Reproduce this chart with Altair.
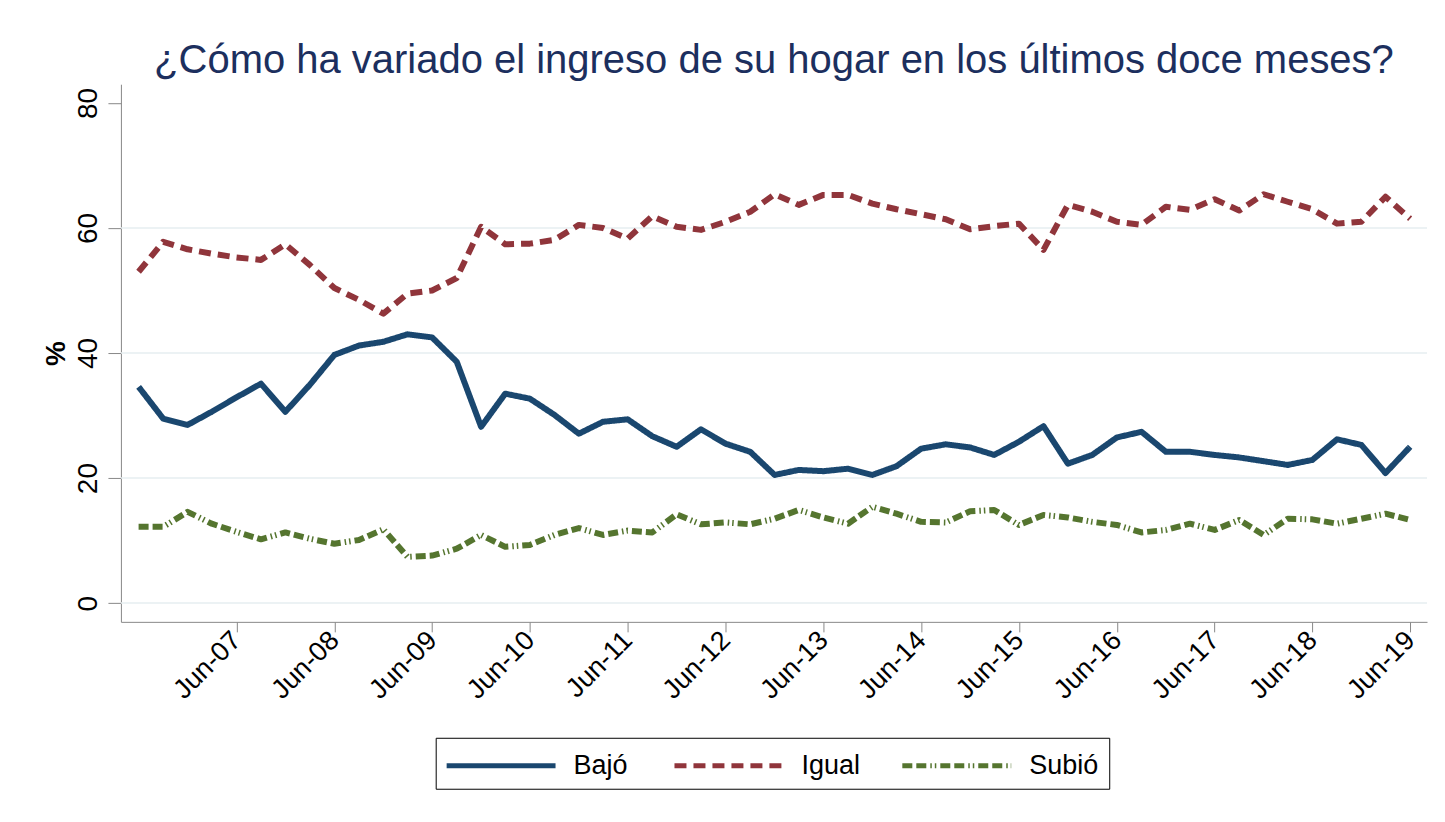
import altair as alt
import pandas as pd

quarters = [
    "2006-06", "2006-09", "2006-12", "2007-03", "2007-06", "2007-09", "2007-12",
    "2008-03", "2008-06", "2008-09", "2008-12", "2009-03", "2009-06", "2009-09",
    "2009-12", "2010-03", "2010-06", "2010-09", "2010-12", "2011-03", "2011-06",
    "2011-09", "2011-12", "2012-03", "2012-06", "2012-09", "2012-12", "2013-03",
    "2013-06", "2013-09", "2013-12", "2014-03", "2014-06", "2014-09", "2014-12",
    "2015-03", "2015-06", "2015-09", "2015-12", "2016-03", "2016-06", "2016-09",
    "2016-12", "2017-03", "2017-06", "2017-09", "2017-12", "2018-03", "2018-06",
    "2018-09", "2018-12", "2019-03", "2019-06",
]

bajo = [
    34.6, 29.5, 28.5, 30.6, 32.9, 35.1, 30.6, 34.9, 39.7, 41.2, 41.8, 43.0, 42.5,
    38.6, 28.2, 33.5, 32.7, 30.1, 27.1, 29.0, 29.4, 26.7, 25.0, 27.8, 25.5, 24.2,
    20.5, 21.3, 21.1, 21.5, 20.5, 21.9, 24.7, 25.4, 24.9, 23.7, 25.8, 28.3, 22.3,
    23.7, 26.5, 27.4, 24.2, 24.2, 23.7, 23.3, 22.7, 22.1, 22.9, 26.2, 25.3, 20.8, 25.0,
]
igual = [
    53.0, 57.8, 56.6, 55.9, 55.3, 54.9, 57.4, 54.1, 50.4, 48.5, 46.3, 49.5, 50.0,
    52.0, 60.2, 57.4, 57.5, 58.1, 60.5, 60.0, 58.3, 61.9, 60.2, 59.7, 61.0, 62.6,
    65.4, 63.7, 65.3, 65.3, 63.9, 63.0, 62.2, 61.4, 59.8, 60.3, 60.7, 56.5, 63.7,
    62.6, 61.0, 60.5, 63.4, 62.9, 64.6, 62.8, 65.4, 64.2, 63.0, 60.7, 61.0, 65.0, 61.5,
]
subio = [
    12.2, 12.2, 14.6, 12.7, 11.4, 10.2, 11.3, 10.3, 9.5, 10.1, 11.8, 7.4, 7.6,
    8.7, 10.9, 9.0, 9.3, 10.9, 12.0, 10.9, 11.6, 11.3, 14.2, 12.6, 12.9, 12.6,
    13.5, 14.9, 13.7, 12.7, 15.4, 14.3, 13.0, 12.9, 14.7, 14.9, 12.5, 14.1, 13.7,
    13.0, 12.5, 11.3, 11.7, 12.7, 11.7, 13.3, 10.9, 13.5, 13.4, 12.7, 13.5, 14.3, 13.3,
]

series_names = ["Bajó", "Igual", "Subió"]
series_colors = ["#1a476f", "#90353b", "#55752f"]
series_dashes = [[1, 0], [12, 7], [10, 4, 10, 4, 1.5, 3, 1.5, 4]]
y_ticks = [0, 20, 40, 60, 80]
grid_values = [0, 20, 40, 60]
x_tick_years = list(range(2007, 2020))
title_text = "¿Cómo ha variado el ingreso de su hogar en los últimos doce meses?"

rows = []
for name, vals in zip(series_names, [bajo, igual, subio]):
    for q, v in zip(quarters, vals):
        rows.append({"fecha": q + "-01", "serie": name, "valor": v})
df = pd.DataFrame(rows)

FONT = "Liberation Sans"
AXIS_COLOR = "#3a3a3a"

x_scale = alt.Scale(
    type="utc",
    domain=[
        alt.DateTime(year=2006, month=3, date=27, utc=True),
        alt.DateTime(year=2019, month=8, date=3, utc=True),
    ],
)
y_scale = alt.Scale(domain=[-3, 83], nice=False, zero=False)

y_axis = alt.Axis(
    values=y_ticks,
    labelAngle=270,
    labelAlign="center",
    labelBaseline="alphabetic",
    labelPadding=11,
    labelFontSize=28,
    tickSize=13,
    grid=False,
    titleAngle=270,
    titleX=-64,
    titleY=269,
    titleAlign="center",
    titleBaseline="middle",
    titleFontSize=28,
)

grid = alt.Chart(pd.DataFrame({"g": grid_values})).mark_rule(
    color="#e6eef1", strokeWidth=1.5
).encode(y=alt.Y("g:Q", scale=y_scale, axis=y_axis, title="%"))

legend = alt.Legend(
    title=None,
    orient="none",
    legendX=315,
    legendY=654,
    direction="horizontal",
    columns=3,
    gridAlign="all",
    symbolType="M-1.1,0H5.93",
    symbolSize=961,
    symbolStrokeWidth=5,
    labelFontSize=27,
    labelFont=FONT,
    labelColor="#000000",
    labelOffset=92,
    columnPadding=20,
    padding=10,
    strokeColor="#000000",
    fillColor="#ffffff",
)

lines = alt.Chart(df).mark_line(strokeWidth=6, strokeJoin="round").encode(
    x=alt.X(
        "fecha:T",
        scale=x_scale,
        title=None,
        axis=alt.Axis(
            values=[alt.DateTime(year=y, month=6, date=1, utc=True) for y in x_tick_years],
            format="%b-%y",
            labelAngle=315,
            labelAlign="right",
            labelBaseline="middle",
            labelPadding=4,
            labelFontSize=27,
            tickSize=10,
            grid=False,
        ),
    ),
    y=alt.Y("valor:Q", scale=y_scale, title="%", axis=y_axis),
    color=alt.Color(
        "serie:N",
        scale=alt.Scale(domain=series_names, range=series_colors),
        legend=legend,
    ),
    strokeDash=alt.StrokeDash(
        "serie:N",
        scale=alt.Scale(domain=series_names, range=series_dashes),
        legend=legend,
    ),
)

chart = (
    alt.layer(grid, lines)
    .properties(
        width=1307,
        height=538,
        autosize=alt.AutoSizeParams(type="none"),
        padding={"left": 113, "top": 76, "right": 10, "bottom": 190},
        view=alt.ViewBackground(strokeOpacity=0, strokeWidth=0),
        title=alt.TitleParams(
            text=title_text,
            font=FONT,
            fontSize=40,
            fontWeight="normal",
            color="#1c2f5e",
            anchor="middle",
            baseline="alphabetic",
            offset=16,
            dy=45,
        ),
    )
    .configure_view(stroke="transparent", strokeOpacity=0, strokeWidth=0)
    .configure_axis(
        labelFont=FONT,
        titleFont=FONT,
        labelColor="#000000",
        titleColor="#000000",
        titleFontWeight="normal",
        domainColor=AXIS_COLOR,
        tickColor=AXIS_COLOR,
        domainWidth=1.5,
        tickWidth=1.5,
    )
    .configure(background="#ffffff")
)

chart.save("out.html", embed_options={"renderer": "svg", "actions": False})
